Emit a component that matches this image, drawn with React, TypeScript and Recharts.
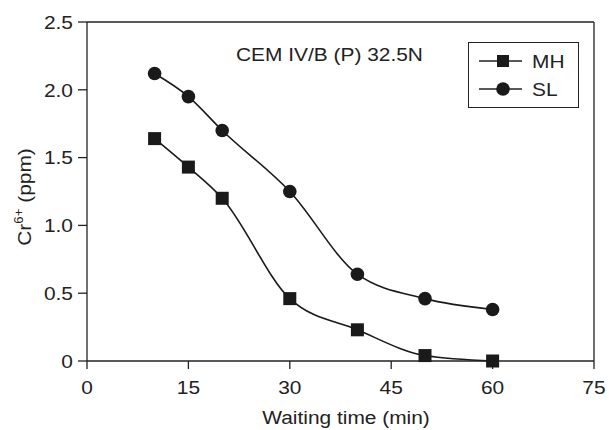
import React from 'react';
import { LineChart, Line, XAxis, YAxis, ReferenceLine, Label } from 'recharts';

const times = [10, 15, 20, 30, 40, 50, 60];
const mhValues = [1.64, 1.43, 1.2, 0.46, 0.23, 0.04, 0.0];
const slValues = [2.12, 1.95, 1.7, 1.25, 0.64, 0.46, 0.38];
const xTicks = [0, 15, 30, 45, 60, 75];
const yTicks = [0, 0.5, 1.0, 1.5, 2.0, 2.5];
const annotation = 'CEM IV/B (P) 32.5N';
const xTitle = 'Waiting time (min)';
const seriesNames = ['MH', 'SL'];

const data = times.map((t, i) => ({ t, MH: mhValues[i], SL: slValues[i] }));

const FONT = '"Liberation Sans", Arial, sans-serif';
const FS = 19;
const SX = 1.1;
const INK = '#222';

const SquareDot = (props: any) => {
  const { cx, cy } = props;
  if (cx == null || cy == null) return null;
  return <rect x={cx - 6.5} y={cy - 6.5} width={13} height={13} fill="#1a1a1a" />;
};
const CircleDot = (props: any) => {
  const { cx, cy } = props;
  if (cx == null || cy == null) return null;
  return <circle cx={cx} cy={cy} r={6.8} fill="#1a1a1a" />;
};

const XTick = (props: any) => {
  const { x, y, payload } = props;
  return (
    <g transform={`translate(${x},${394})`}>
      <text transform={`scale(${SX},1)`} textAnchor="middle" fontFamily={FONT} fontSize={FS} fill={INK}>
        {String(payload.value)}
      </text>
    </g>
  );
};

const YTick = (props: any) => {
  const { y, payload } = props;
  const v = payload.value as number;
  return (
    <g transform={`translate(${73},${y})`}>
      <text transform={`scale(${SX},1)`} textAnchor="end" dy="0.36em" fontFamily={FONT} fontSize={FS} fill={INK}>
        {v === 0 ? '0' : v.toFixed(1)}
      </text>
    </g>
  );
};

const LegendBox = () => (
  <div
    style={{
      position: 'absolute',
      left: 468,
      top: 42,
      border: '1.3px solid #222',
      width: 111,
      height: 66,
      boxSizing: 'border-box',
      background: '#fff',
    }}
  >
    <svg width={109} height={64} style={{ display: 'block' }}>
      <line x1={10} y1={18} x2={53} y2={18} stroke={INK} strokeWidth={1.5} />
      <rect x={28} y={12} width={12} height={12} fill="#1a1a1a" />
      <g transform="translate(63,25)">
        <text transform={`scale(${SX},1)`} fontFamily={FONT} fontSize={FS} fill={INK}>{seriesNames[0]}</text>
      </g>
      <line x1={10} y1={46} x2={53} y2={46} stroke={INK} strokeWidth={1.5} />
      <circle cx={34} cy={46} r={6.8} fill="#1a1a1a" />
      <g transform="translate(63,53)">
        <text transform={`scale(${SX},1)`} fontFamily={FONT} fontSize={FS} fill={INK}>{seriesNames[1]}</text>
      </g>
    </svg>
  </div>
);

const YLabel = () => {
  const x = 31;
  const cy = 197;
  return (
    <g transform={`translate(${x},${cy}) rotate(-90)`}>
      <text transform={`scale(${SX},1)`} textAnchor="middle" fontFamily={FONT} fontSize={FS} fill={INK}>
        Cr<tspan fontSize={12} dy={-8}>6+</tspan>
        <tspan dy={8}> (ppm)</tspan>
      </text>
    </g>
  );
};

const XLabel = () => (
  <g transform={`translate(${346},${424})`}>
    <text transform={`scale(${SX},1)`} textAnchor="middle" fontFamily={FONT} fontSize={FS} fill={INK}>
      {xTitle}
    </text>
  </g>
);

const Annotation = () => (
  <g transform={`translate(${236},${61})`}>
    <text transform={`scale(${SX},1)`} fontFamily={FONT} fontSize={FS} fill={INK}>
      {annotation}
    </text>
  </g>
);

export default function App() {
  return (
    <div style={{ position: 'absolute', left: 0, top: 0, width: 609, height: 430, background: '#fff' }}>
      <LineChart
        width={609}
        height={430}
        data={data}
        margin={{ top: 22, right: 15, bottom: 0, left: 0 }}
      >
        <XAxis
          dataKey="t"
          type="number"
          domain={[0, 75]}
          ticks={xTicks}
          tickLine={{ stroke: INK, strokeWidth: 1.3 }}
          axisLine={{ stroke: INK, strokeWidth: 1.3 }}
          tickSize={8}
          tick={<XTick />}
          interval={0}
          height={69}
        >
          <Label content={<XLabel />} />
        </XAxis>
        <YAxis
          type="number"
          domain={[0, 2.5]}
          ticks={yTicks}
          tickLine={{ stroke: INK, strokeWidth: 1.3 }}
          axisLine={{ stroke: INK, strokeWidth: 1.3 }}
          tickSize={9}
          tick={<YTick />}
          interval={0}
          width={87}
        >
          <Label content={<YLabel />} />
        </YAxis>
        <ReferenceLine y={2.5} stroke={INK} strokeWidth={1.3}>
          <Label content={<Annotation />} />
        </ReferenceLine>
        <ReferenceLine x={75} stroke={INK} strokeWidth={1.3} />
        <Line
          type="monotone"
          dataKey="MH"
          stroke="#1a1a1a"
          strokeWidth={1.6}
          dot={<SquareDot />}
          isAnimationActive={false}
        />
        <Line
          type="monotone"
          dataKey="SL"
          stroke="#1a1a1a"
          strokeWidth={1.6}
          dot={<CircleDot />}
          isAnimationActive={false}
        />
      </LineChart>
      <LegendBox />
    </div>
  );
}
